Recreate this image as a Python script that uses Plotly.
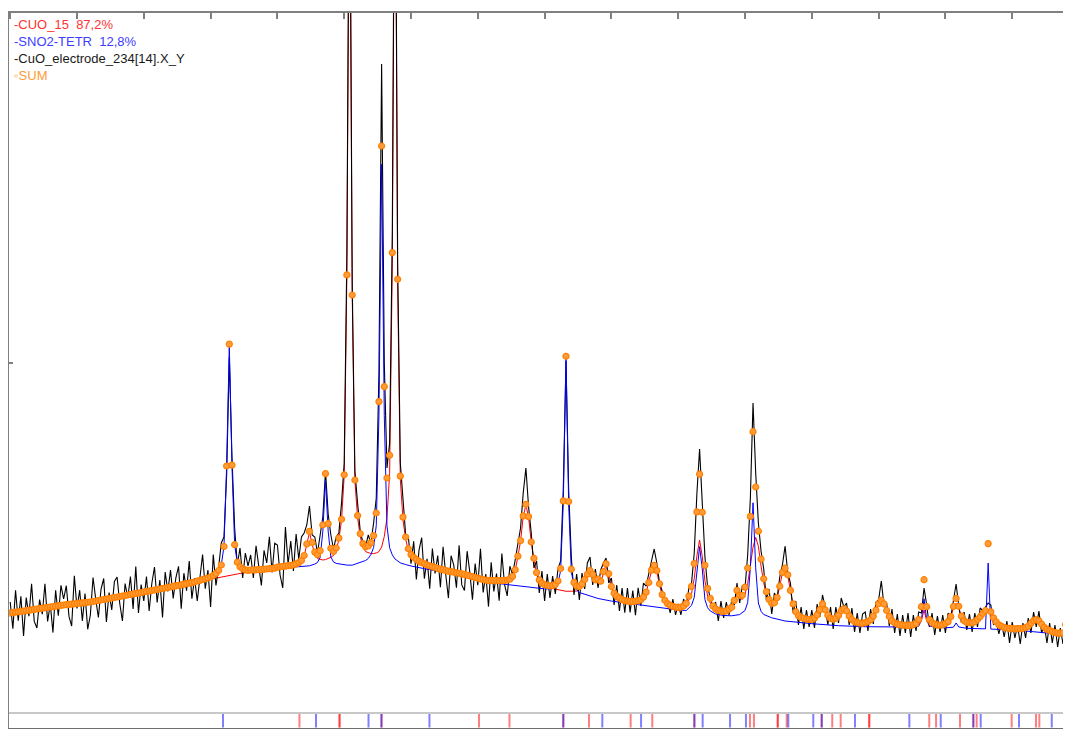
import numpy as np
import plotly.graph_objects as go

# ---------------- data ----------------
# measured scan: start / step of the 2-theta grid (degrees)
two_theta_start = 10.0
two_theta_step = 0.2

# observed intensity (counts) on the scan grid
observed = [
    1110, 844, 1228, 922, 1166, 770, 1154, 968, 1292, 916,
    850, 1134, 988, 1292, 916, 1090, 804, 1228, 972, 1276,
    1140, 1273, 966, 869, 1372, 1045, 1228, 921, 1194, 837,
    980, 1355, 1140, 955, 1240, 1345, 910, 1205, 1030, 1315,
    1360, 1095, 920, 1295, 1150, 1365, 1040, 1465, 1000, 1285,
    1120, 1365, 1020, 1295, 1460, 1105, 1330, 955, 1410, 1215,
    1430, 1146, 1351, 1467, 1042, 1398, 1223, 1519, 1144, 1350,
    1120, 1386, 1585, 1242, 1430, 1060, 1585, 1275, 1455, 1700,
    1760, 2380, 3560, 2560, 1850, 1480, 1650, 1350, 1600, 1470,
    1580, 1350, 1672, 1473, 1275, 1627, 1500, 1763, 1405, 1698,
    1680, 1380, 1250, 1860, 1490, 1720, 1420, 1790, 1540, 1760,
    1800, 1880, 2070, 1780, 1760, 1600, 1760, 1960, 2420, 1990,
    1780, 1640, 1760, 1800, 2100, 2500, 4600, 9200, 4300, 2420,
    2100, 1820, 1700, 1660, 1780, 1700, 1900, 2150, 3400, 6490,
    3500, 2450, 2700, 4800, 9700, 4500, 2500, 2120, 1780, 1760,
    1494, 1717, 1335, 1628, 1753, 1342, 1541, 1242, 1644, 1396,
    1575, 1258, 1662, 1385, 1149, 1573, 1478, 1252, 1677, 1281,
    1226, 1618, 1410, 1133, 1495, 1278, 1641, 1205, 1389, 1064,
    1507, 1215, 1394, 1123, 1595, 1285, 1170, 1468, 1386, 1532,
    1680, 1850, 2200, 2450, 2060, 1800, 1450, 1520, 1200, 1420,
    1120, 1390, 1150, 1370, 1190, 1440, 1520, 2250, 3520, 2230,
    1560, 1180, 1390, 1130, 1400, 1240, 1500, 1560, 1280, 1440,
    1250, 1430, 1500, 1550, 1300, 1350, 1080, 1280, 1020, 1250,
    1003, 1249, 1006, 1225, 977, 1252, 1072, 1299, 1269, 1415,
    1520, 1640, 1500, 1300, 1220, 1110, 1130, 1000, 1140, 980,
    1090, 980, 1140, 1070, 1250, 1300, 1600, 2200, 2640, 2100,
    1560, 1260, 1160, 1040, 1110, 920, 1120, 950, 1110, 980,
    1120, 1080, 1300, 1100, 1270, 1250, 1580, 2150, 3100, 2400,
    1900, 1620, 1440, 1130, 1240, 990, 1200, 1150, 1360, 1480,
    1670, 1400, 1300, 1000, 1120, 880, 1060, 840, 1030, 860,
    1030, 850, 1090, 960, 1180, 1060, 880, 1060, 840, 1060,
    900, 1150, 1060, 1100, 880, 1050, 810, 1000, 800, 990,
    1010, 820, 1040, 890, 1110, 1130, 1320, 1080, 1100, 870,
    1040, 800, 990, 770, 980, 800, 1000, 760, 980, 820,
    1010, 1000, 1250, 1080, 860, 1000, 780, 970, 810, 980,
    800, 1000, 960, 1140, 1290, 1070, 900, 1010, 830, 990,
    810, 1000, 860, 1050, 1020, 1060, 1100, 1080, 880, 920,
    790, 900, 760, 920, 700, 910, 750, 880, 690, 900,
    750, 950, 800, 1010, 860, 1020, 800, 880, 700, 900,
    700, 880, 660, 850, 690, 930, 1080, 900,
]

# calculated total pattern (SUM) on the same grid
calc_sum = [
    1000, 1004, 1008, 1012, 1016, 1020, 1024, 1028, 1032, 1036,
    1040, 1044, 1048, 1052, 1056, 1060, 1064, 1068, 1072, 1076,
    1080, 1083, 1086, 1089, 1092, 1095, 1098, 1101, 1104, 1107,
    1110, 1115, 1120, 1125, 1130, 1135, 1140, 1145, 1150, 1155,
    1160, 1165, 1170, 1175, 1180, 1185, 1190, 1195, 1200, 1205,
    1210, 1215, 1220, 1225, 1230, 1235, 1240, 1245, 1250, 1255,
    1260, 1266, 1271, 1277, 1282, 1288, 1293, 1299, 1304, 1310,
    1320, 1326, 1335, 1342, 1350, 1360, 1375, 1395, 1425, 1480,
    1665, 2470, 3689, 2479, 1683, 1508, 1462, 1442, 1431, 1426,
    1430, 1430, 1432, 1433, 1435, 1437, 1440, 1443, 1445, 1448,
    1459, 1462, 1465, 1469, 1473, 1476, 1482, 1491, 1504, 1525,
    1575, 1690, 1816, 1705, 1609, 1584, 1623, 1880, 2394, 1893,
    1647, 1615, 1650, 1749, 1937, 2382, 4381, 9080, 4180, 2330,
    1974, 1793, 1694, 1664, 1670, 1704, 1774, 2000, 3114, 5670,
    3264, 2350, 2577, 4604, 9561, 4337, 2369, 1959, 1760, 1643,
    1584, 1557, 1535, 1518, 1503, 1492, 1481, 1472, 1464, 1456,
    1445, 1438, 1432, 1425, 1419, 1413, 1408, 1402, 1397, 1391,
    1386, 1378, 1370, 1363, 1355, 1348, 1341, 1335, 1329, 1324,
    1327, 1325, 1324, 1323, 1325, 1325, 1330, 1338, 1366, 1432,
    1568, 1724, 1971, 2087, 1964, 1710, 1547, 1404, 1331, 1299,
    1283, 1276, 1272, 1273, 1285, 1320, 1445, 2121, 3567, 2115,
    1438, 1306, 1269, 1265, 1289, 1335, 1388, 1424, 1385, 1332,
    1338, 1318, 1413, 1491, 1393, 1265, 1199, 1168, 1148, 1134,
    1123, 1119, 1116, 1115, 1117, 1122, 1132, 1159, 1209, 1305,
    1429, 1477, 1424, 1292, 1184, 1127, 1094, 1077, 1065, 1059,
    1056, 1059, 1070, 1096, 1169, 1266, 1494, 2011, 2389, 2007,
    1477, 1246, 1146, 1071, 1041, 1025, 1018, 1016, 1021, 1039,
    1057, 1126, 1226, 1176, 1177, 1259, 1450, 1966, 2813, 2260,
    1818, 1539, 1342, 1213, 1135, 1097, 1102, 1154, 1268, 1406,
    1448, 1382, 1226, 1091, 1012, 973, 955, 946, 939, 936,
    935, 949, 981, 1033, 1092, 1032, 978, 947, 938, 947,
    976, 1023, 1041, 1020, 969, 934, 914, 904, 899, 897,
    904, 914, 932, 969, 1028, 1092, 1126, 1091, 1025, 966,
    921, 902, 889, 883, 879, 877, 876, 878, 883, 895,
    934, 1063, 1333, 1063, 934, 901, 888, 879, 879, 883,
    895, 914, 964, 1065, 1146, 1067, 969, 922, 906, 902,
    902, 912, 935, 963, 996, 1025, 1694, 1012, 952, 911,
    882, 867, 855, 850, 846, 844, 842, 842, 843, 847,
    853, 870, 898, 925, 933, 921, 889, 857, 836, 826,
    814, 805, 799, 798, 800, 884, 1061, 875,
]

# CuO phase (with background)
cuo_two_theta = [
    10, 14, 18, 22, 24, 26, 27, 28, 29, 30, 31.0, 31.6, 31.8,
    32.0, 32.2, 32.4, 32.6, 32.8, 33.0, 33.2, 33.4, 33.6, 33.8,
    34.0, 34.2, 34.4, 34.6, 34.8, 35.0, 35.2, 35.4, 35.6, 35.8,
    36.0, 36.2, 36.4, 36.6, 36.8, 37.0, 37.2, 37.4, 37.6, 37.8,
    38.0, 38.2, 38.4, 38.6, 38.8, 39.0, 39.2, 39.4, 39.6, 39.8,
    40.0, 40.6, 41.4, 42, 44, 46, 47.0, 47.4, 47.6, 47.8,
    48.0, 48.2, 48.4, 48.6, 48.8, 49.0, 49.2, 49.4, 49.6, 49.8,
    50.4, 51.0, 51.6, 52.0, 52.4, 52.6, 52.8, 53.0, 53.2, 53.4, 53.6, 53.8,
    54.0, 54.2, 54.4, 54.6, 54.8, 55.0, 55.2, 55.4, 55.6, 55.8,
    56.4, 57.0, 57.4, 57.6, 57.8, 58.0, 58.2, 58.4, 58.6, 58.8, 59.0, 59.4,
    60.0, 60.4, 60.6, 60.8, 61.0, 61.2, 61.4, 61.6, 61.8,
    62.0, 62.2, 62.4, 62.6, 62.8, 63.0, 63.4, 63.8,
    64.0, 64.2, 64.4, 64.6, 64.8, 65.0, 65.2, 65.4, 65.6, 65.8,
    66.0, 66.2, 66.4, 66.6, 66.8, 67.0, 67.2, 67.4, 67.6, 67.8,
    68.0, 68.2, 68.4, 68.6, 68.8, 69.0, 69.4, 69.8,
    70.0, 70.2, 70.4, 70.6, 70.8, 71.0, 71.2, 71.4, 71.6, 71.8,
    72.0, 72.2, 72.4, 72.6, 72.8, 73.0, 73.4,
    74.0, 74.4, 74.6, 74.8, 75.0, 75.2, 75.4, 75.6, 75.8,
    76.2, 76.8, 77.6, 78.0, 78.2, 78.4, 78.6, 78.8, 79.2, 79.6,
    80.0, 80.2, 80.4, 80.6, 80.8, 81.0, 81.2, 81.4, 81.8,
    82.2, 82.6, 83.0, 83.2, 83.4, 83.6, 84.0, 84.4, 85.0, 85.6,
    86.0, 86.4, 86.8, 87.2, 87.6, 88.0, 88.6, 88.8, 89.0, 89.2, 89.4,
]
cuo_calc = [
    1000, 1080, 1160, 1260, 1315, 1365, 1390, 1415, 1430, 1458, 1470, 1500, 1520,
    1569, 1682, 1806, 1690, 1584, 1544, 1533, 1530, 1534, 1543,
    1557, 1575, 1625, 1734, 1925, 2374, 4375, 9075, 4176, 2326,
    1952, 1765, 1659, 1614, 1600, 1594, 1594, 1600, 1614, 1659,
    1764, 1950, 2397, 4494, 9491, 4287, 2334, 1931, 1738, 1625,
    1569, 1508, 1466, 1440, 1383, 1320, 1320, 1333, 1361, 1427,
    1563, 1719, 1965, 2081, 1957, 1703, 1539, 1395, 1321, 1287,
    1250, 1232, 1217, 1218, 1219, 1233, 1265, 1310, 1368, 1407, 1371, 1320,
    1328, 1309, 1405, 1484, 1386, 1259, 1193, 1163, 1143, 1129,
    1111, 1116, 1152, 1202, 1298, 1420, 1467, 1413, 1280, 1176, 1118, 1066,
    1040, 1063, 1081, 1129, 1196, 1344, 1571, 1729, 1567,
    1321, 1170, 1098, 1047, 1023, 1009, 1000, 1021,
    1043, 1108, 1204, 1147, 1136, 1188, 1295, 1461, 1658, 1756,
    1668, 1469, 1302, 1186, 1115, 1082, 1090, 1144, 1260, 1399,
    1441, 1375, 1219, 1084, 1004, 965, 943, 933,
    930, 945, 977, 1029, 1088, 1028, 974, 943, 935, 944,
    973, 1020, 1038, 1017, 966, 931, 901,
    901, 929, 966, 1024, 1088, 1122, 1086, 1020, 960,
    897, 872, 868, 880, 920, 1030, 920, 880, 872, 875,
    890, 905, 955, 1050, 1096, 1055, 965, 918, 900,
    910, 960, 1023, 1032, 1010, 950, 880, 853, 842, 841,
    851, 896, 931, 887, 834, 812, 796, 798, 880, 1057, 873,
]

# SnO2 phase (with background)
sno2_two_theta = [
    10, 14, 18, 22, 24.0, 24.8, 25.2, 25.6, 25.8,
    26.0, 26.2, 26.4, 26.6, 26.8, 27.0, 27.2, 27.6, 28.0, 30.0, 31.0,
    32.0, 32.4, 32.8, 33.0, 33.2, 33.4, 33.6, 33.8, 34.0, 34.2, 34.4, 34.8,
    35.2, 35.6, 36.0, 36.4, 36.6, 36.8, 37.0, 37.2, 37.4, 37.6, 37.8,
    38.0, 38.2, 38.4, 38.6, 38.8, 39.2, 39.6, 40.0, 41.0, 42.0, 44.0, 46.0,
    48.0, 49.0, 50.0, 50.4, 50.8, 51.0, 51.2, 51.4, 51.6, 51.8,
    52.0, 52.2, 52.4, 52.6, 53.0, 54.0, 55.0, 56.0, 57.0, 58.0, 59.0,
    60.0, 60.6, 61.0, 61.2, 61.4, 61.6, 61.8, 62.0, 62.2, 62.4, 62.8, 63.4,
    64.0, 64.6, 65.0, 65.2, 65.4, 65.6, 65.8, 66.0, 66.2, 66.4, 67.0, 68.0,
    70.0, 72.0, 74.0, 76.0, 77.6, 78.0, 78.2, 78.4, 78.6, 78.8, 79.2,
    80.0, 80.6, 80.8, 81.0, 81.6, 82.6, 83.0, 83.2, 83.4, 84.0, 86.0, 88.0, 89.4,
]
sno2_calc = [
    1000, 1080, 1160, 1260, 1320, 1350, 1375, 1425, 1480,
    1665, 2470, 3680, 2470, 1680, 1500, 1450, 1425, 1425, 1445, 1455,
    1466, 1472, 1489, 1505, 1556, 1817, 2328, 1819, 1560, 1510, 1496, 1484,
    1479, 1478, 1497, 1510, 1525, 1545, 1585, 1655, 1875, 2975, 5486,
    2974, 1873, 1652, 1581, 1540, 1501, 1484, 1470, 1443, 1420, 1373, 1303,
    1271, 1255, 1241, 1242, 1261, 1298, 1424, 2101, 3547, 2094,
    1410, 1274, 1229, 1205, 1187, 1145, 1119, 1100, 1080, 1063, 1045,
    1030, 1025, 1077, 1156, 1444, 1663, 1441, 1135, 1053, 1020, 990, 975,
    972, 984, 1025, 1104, 1453, 2102, 1451, 1100, 1017, 985, 952, 920,
    893, 873, 863, 859, 859, 868, 930, 1142, 930, 870, 857,
    852, 858, 900, 860, 847, 843, 841, 1499, 839, 836, 820, 795, 755,
]

# reflection positions (2-theta) for the tick panel
cuo_reflections = [31.65, 34.65, 34.65, 37.79, 45.09, 47.37, 51.40, 53.32, 56.44,
                   58.06, 61.21, 65.37, 65.67, 67.45, 67.45, 68.12, 70.74, 71.53,
                   72.16, 74.30, 74.30, 78.79, 79.30, 81.09, 82.09, 82.34, 84.96,
                   86.78, 87.03]
sno2_reflections = [25.93, 32.89, 36.82, 37.79, 41.38, 51.40, 54.32, 57.22, 61.21,
                    61.83, 63.88, 65.07, 68.24, 70.11, 70.74, 73.23, 77.30, 79.65,
                    82.09, 82.64, 85.51, 87.96]

legend_labels = ["-CUO_15  87,2%", "-SNO2-TETR  12,8%",
                 "-CuO_electrode_234[14].X_Y", "\u25e6SUM"]
legend_colors = ["#ff3333", "#3d3dff", "#1a1a1a", "#ff9a33"]

# ---------------- figure ----------------
x_obs = np.round(two_theta_start + two_theta_step * np.arange(len(observed)), 2)
x_sum = np.round(two_theta_start + two_theta_step * np.arange(len(calc_sum)), 2)

fig = go.Figure()
fig.add_trace(go.Scatter(x=cuo_two_theta, y=cuo_calc, mode="lines",
                         line=dict(color="#ff0000", width=1),
                         xaxis="x2", yaxis="y", hoverinfo="skip"))
fig.add_trace(go.Scatter(x=x_obs, y=observed, mode="lines",
                         line=dict(color="black", width=1.1),
                         xaxis="x2", yaxis="y", hoverinfo="skip"))
fig.add_trace(go.Scatter(x=sno2_two_theta, y=sno2_calc, mode="lines",
                         line=dict(color="#0000ff", width=1),
                         xaxis="x2", yaxis="y", hoverinfo="skip"))
fig.add_trace(go.Scatter(x=x_sum, y=calc_sum, mode="markers",
                         marker=dict(symbol="circle", size=6, color="#ff9c3a",
                                     line=dict(color="#ff8000", width=1.2)),
                         xaxis="x2", yaxis="y", hoverinfo="skip"))
fig.add_trace(go.Scatter(x=cuo_reflections, y=[0.5] * len(cuo_reflections),
                         mode="markers",
                         marker=dict(symbol="line-ns", size=10,
                                     line=dict(color="rgba(255,0,0,0.5)", width=2)),
                         xaxis="x", yaxis="y2", hoverinfo="skip"))
fig.add_trace(go.Scatter(x=sno2_reflections, y=[0.5] * len(sno2_reflections),
                         mode="markers",
                         marker=dict(symbol="line-ns", size=10,
                                     line=dict(color="rgba(0,0,255,0.5)", width=2)),
                         xaxis="x", yaxis="y2", hoverinfo="skip"))

x_range = [9.91, 89.40]
main_bottom = 0.021
frame = "#808080"

annotations = []
legend_y = [0.9846, 0.9608, 0.937, 0.912]
for label, color, yy in zip(legend_labels, legend_colors, legend_y):
    annotations.append(dict(text=label, xref="paper", yref="paper", x=0.003, y=yy,
                            xanchor="left", yanchor="middle", showarrow=False,
                            font=dict(family="Liberation Sans, Arial, sans-serif",
                                      size=13, color=color)))

# the page body adds an 8 px offset; the figure is sized to fill the rest
fig.update_layout(
    width=1063, height=721,
    margin=dict(l=1, r=0, t=5, b=1),
    paper_bgcolor="white", plot_bgcolor="white",
    showlegend=False,
    xaxis=dict(domain=[0, 1], anchor="y2", range=x_range, showline=True,
               linecolor="#6e6e6e", linewidth=2, ticks="", showticklabels=False,
               showgrid=False, zeroline=False),
    xaxis2=dict(domain=[0, 1], anchor="y", side="top", range=x_range, showline=True,
                linecolor=frame, linewidth=2, ticks="inside", ticklen=6, tickwidth=2,
                tickcolor=frame, tick0=0, dtick=5, showticklabels=False,
                showgrid=False, zeroline=False),
    yaxis=dict(domain=[main_bottom, 1], anchor="x2", range=[0, 7000], showline=True,
               linecolor=frame, linewidth=2, ticks="inside", ticklen=4, tickwidth=2,
               tickcolor=frame, tickvals=[3500], showticklabels=False,
               showgrid=False, zeroline=False),
    yaxis2=dict(domain=[0, main_bottom], anchor="x", range=[0, 1], showline=True,
                linecolor=frame, linewidth=2, ticks="", showticklabels=False,
                showgrid=False, zeroline=False),
    shapes=[dict(type="line", xref="paper", yref="paper", x0=0, x1=1,
                 y0=main_bottom, y1=main_bottom,
                 line=dict(color="#c8c8c8", width=2))],
    annotations=annotations,
)

fig.write_html("out.html", config={"displayModeBar": False})
